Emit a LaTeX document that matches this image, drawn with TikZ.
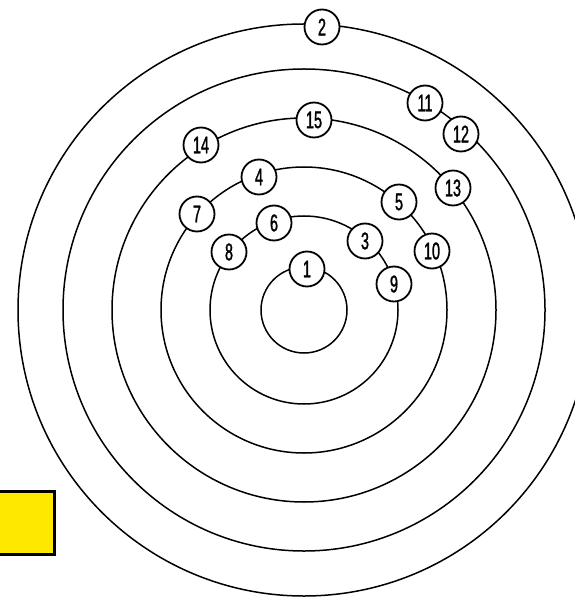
\documentclass[tikz,border=0pt]{standalone}
\usepackage{fontspec}
\newfontfamily\numfont{Liberation Sans}[FakeStretch=0.6,FakeBold=1.2]
\definecolor{signyellow}{HTML}{FFE800}
\begin{document}
\begin{tikzpicture}[x=1pt,y=-1pt,
  ring/.style={draw=black,line width=1.5pt},
  num/.style={circle,draw=black,line width=1.8pt,fill=white,minimum size=35pt,inner sep=0pt,font=\numfont\fontsize{24}{24}\selectfont}]
\useasboundingbox (0,0) rectangle (574,601);
\coordinate (c) at (304,310);
\draw[ring] (c) circle[radius=43];
\draw[ring] (c) circle[radius=94];
\draw[ring] (c) circle[radius=143];
\draw[ring] (c) circle[radius=192];
\draw[ring] (c) circle[radius=241];
\draw[ring] (c) circle[radius=286];
\node[num] (n2) at (322,27) {2};
\node[num] (n11) at (425,103) {11};
\node[num] (n12) at (461,134) {12};
\node[num] (n15) at (314,120) {15};
\node[num] (n14) at (201,145) {14};
\node[num] (n13) at (453,188) {13};
\node[num] (n4) at (259,177) {4};
\node[num] (n5) at (399,202) {5};
\node[num] (n7) at (197,214) {7};
\node[num] (n6) at (274,223) {6};
\node[num] (n3) at (365,241) {3};
\node[num] (n10) at (432,251) {10};
\node[num] (n8) at (229,252) {8};
\node[num] (n1) at (307,269) {1};
\node[num] (n9) at (394,284) {9};
\draw[fill=signyellow,draw=black,line width=3pt] (-5,491) rectangle (54,554);
\end{tikzpicture}
\end{document}
